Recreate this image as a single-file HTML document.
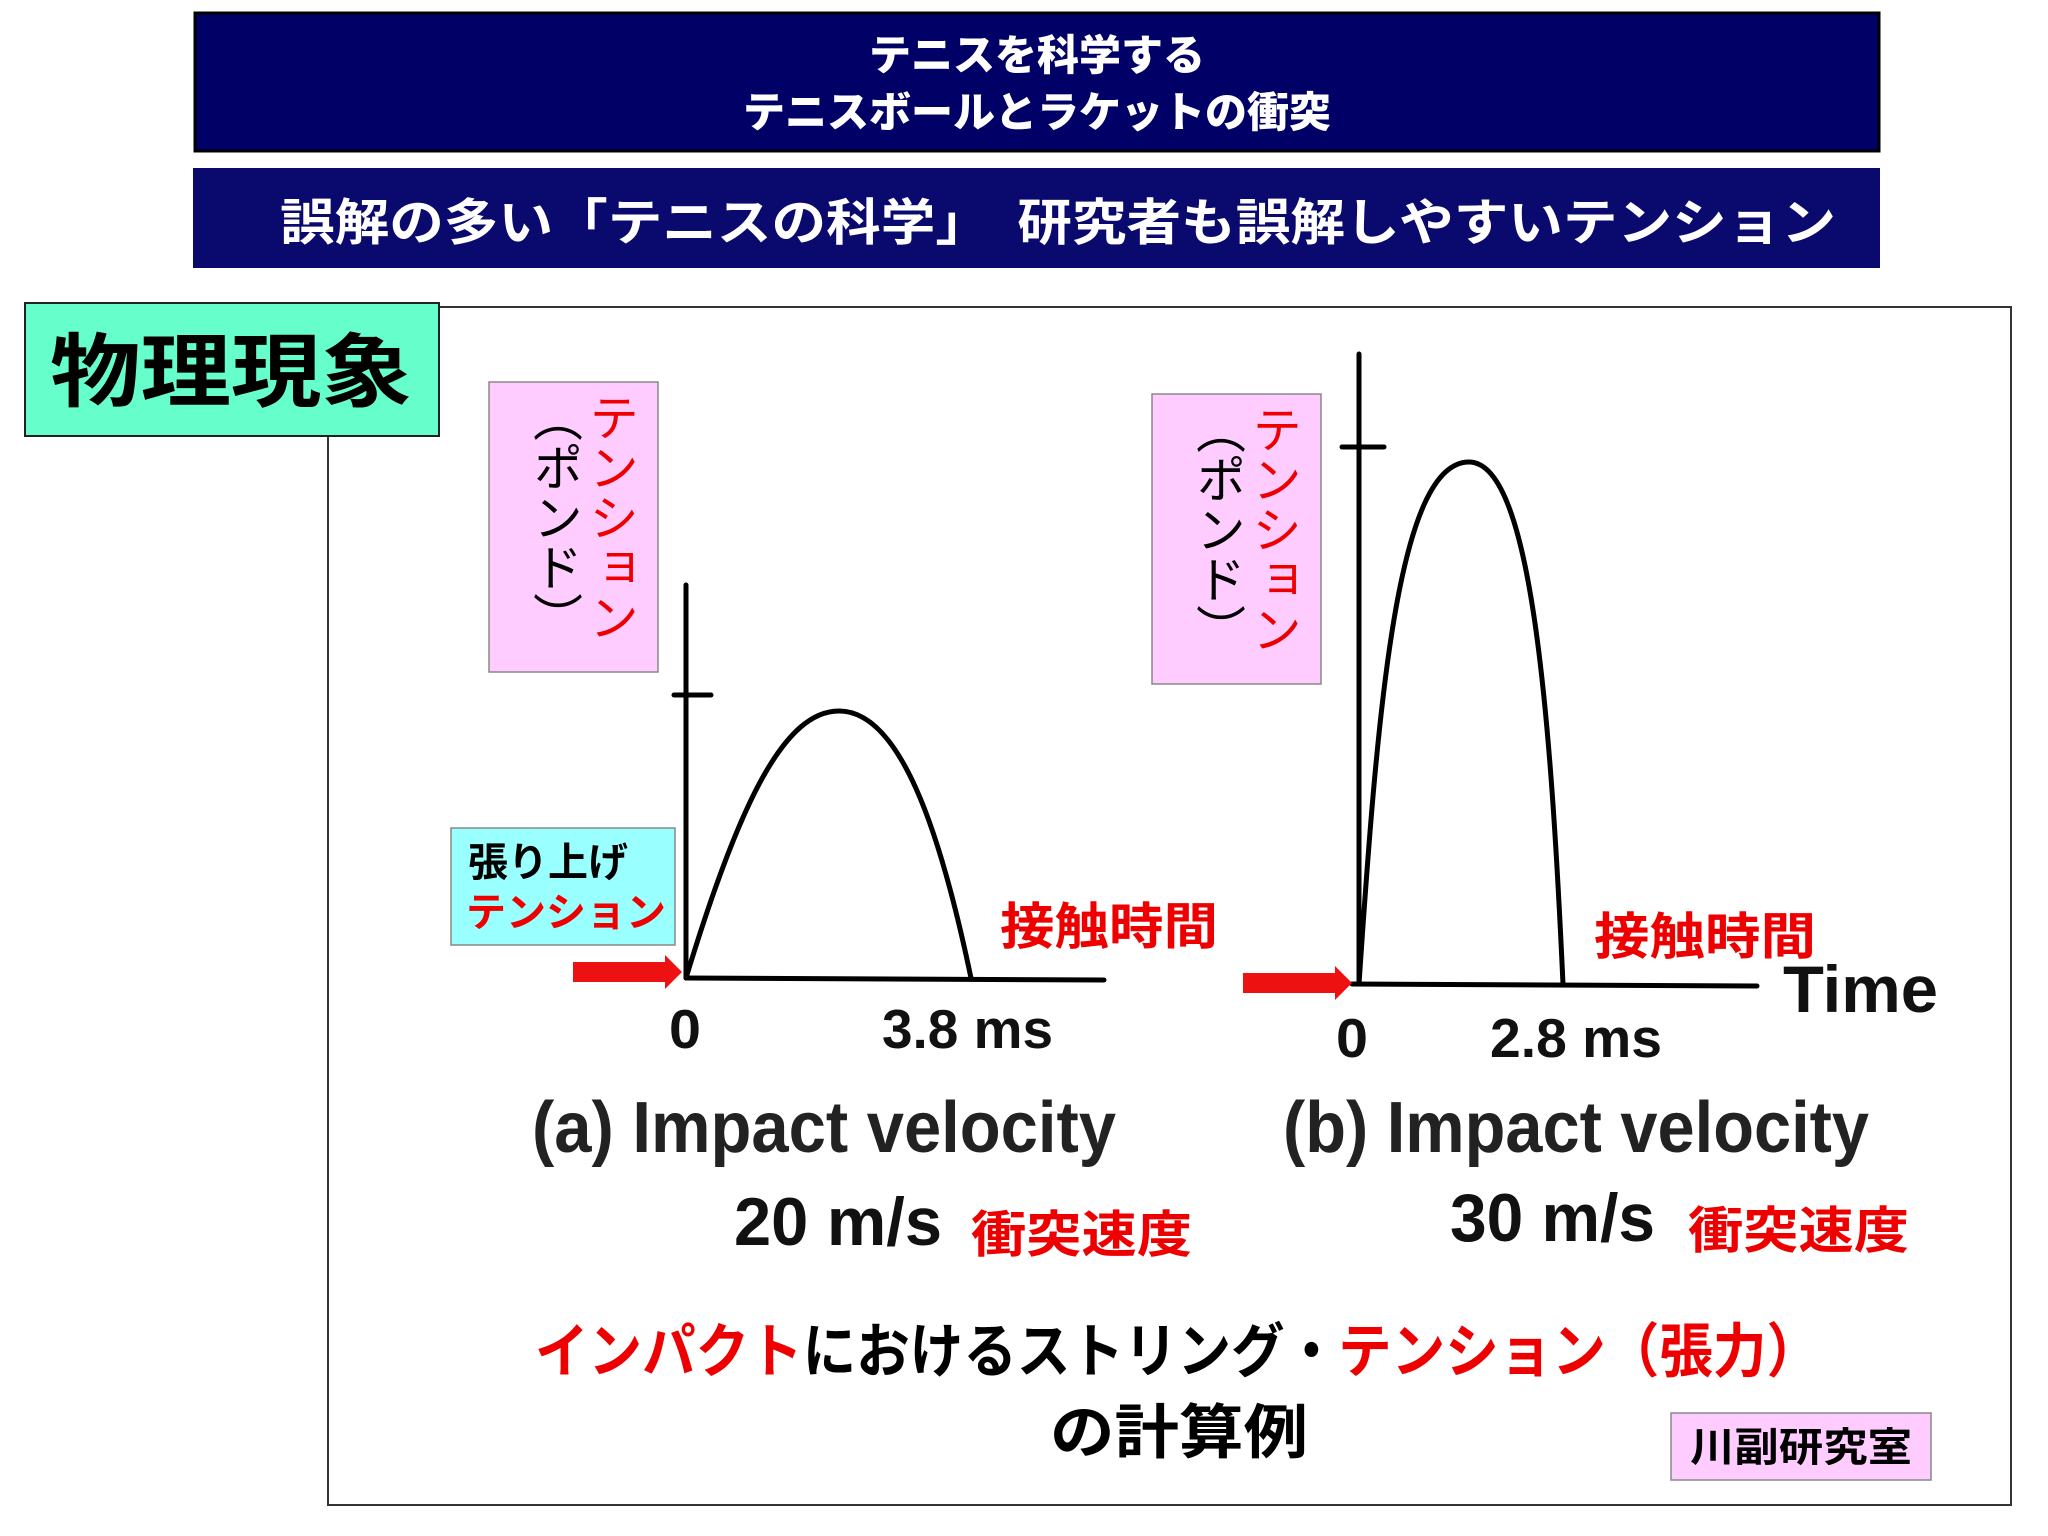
<!DOCTYPE html>
<html><head><meta charset="utf-8"><style>
html,body{margin:0;padding:0;background:#fff;}
.v{position:absolute;writing-mode:vertical-rl;font-family:"Liberation Sans","Noto Sans CJK JP",sans-serif;font-size:50px;line-height:56px;}
</style></head><body>
<div style="position:relative;width:2048px;height:1536px;overflow:hidden;">
<svg width="2048" height="1536" viewBox="0 0 2048 1536" style="position:absolute;left:0;top:0" font-family="Liberation Sans, Noto Sans CJK JP, sans-serif">
<rect x="195" y="13" width="1684" height="138" fill="#000066" stroke="#000" stroke-width="3"/>
<text x="1037" y="70" fill="#fff" font-size="42" font-weight="900" text-anchor="middle" font-family="Noto Sans CJK JP, sans-serif">テニスを科学する</text>
<text x="1037" y="127" fill="#fff" font-size="42" font-weight="900" text-anchor="middle" font-family="Noto Sans CJK JP, sans-serif">テニスボールとラケットの衝突</text>
<rect x="193" y="168" width="1687" height="100" fill="#0a0a6e"/>
<text x="280" y="240" fill="#fff" font-size="50" font-weight="bold" textLength="1556" lengthAdjust="spacingAndGlyphs" font-family="Noto Sans CJK JP, sans-serif">誤解の多い「テニスの科学」　研究者も誤解しやすいテンション</text>
<rect x="328" y="307" width="1683" height="1198" fill="#fff" stroke="#333" stroke-width="2"/>
<rect x="25" y="303" width="414" height="133" fill="#66ffcc" stroke="#222" stroke-width="2"/>
<text x="50" y="400" font-size="80" font-weight="bold" fill="#000" textLength="362" lengthAdjust="spacingAndGlyphs" font-family="Noto Sans CJK JP, sans-serif">物理現象</text>
<rect x="489" y="382" width="169" height="290" fill="#ffccff" stroke="#888" stroke-width="1.5"/>
<rect x="1152" y="394" width="169" height="290" fill="#ffccff" stroke="#888" stroke-width="1.5"/>
<rect x="451" y="828" width="224" height="117" fill="#99ffff" stroke="#888" stroke-width="1.5"/>
<text x="468" y="876" font-size="40" font-weight="bold" fill="#000" font-family="Noto Sans CJK JP, sans-serif">張り上げ</text>
<text x="466" y="926" font-size="40" font-weight="bold" fill="#e00" font-family="Noto Sans CJK JP, sans-serif">テンション</text>
<g stroke="#000" stroke-width="5" fill="none" stroke-linecap="round">
<line x1="686" y1="585" x2="686" y2="978"/><line x1="674" y1="695" x2="711" y2="695"/>
<line x1="686" y1="978" x2="1104" y2="980"/>
<path d="M686,978 C740,800 785,711 839,711 C900,711 940,830 971,978"/>
<line x1="1359" y1="354" x2="1359" y2="984"/><line x1="1342" y1="447" x2="1384" y2="447"/>
<line x1="1352" y1="984" x2="1757" y2="986"/>
<path d="M1359,984 C1378,700 1398,462 1469,462 C1530,462 1550,700 1563,984"/>
</g>
<polygon points="573,962 665,962 665,955 682,972 665,989 665,982 573,982" fill="#ee1111"/>
<polygon points="1243,973 1335,973 1335,966 1352,983 1335,1000 1335,993 1243,993" fill="#ee1111"/>
<text x="1000" y="944" font-size="50" font-weight="bold" fill="#e00" textLength="218" lengthAdjust="spacingAndGlyphs" font-family="Noto Sans CJK JP, sans-serif">接触時間</text>
<text x="1594" y="954" font-size="50" font-weight="bold" fill="#e00" textLength="222" lengthAdjust="spacingAndGlyphs" font-family="Noto Sans CJK JP, sans-serif">接触時間</text>
<g font-weight="bold" fill="#111">
<text x="669" y="1048" font-size="55" textLength="32" lengthAdjust="spacingAndGlyphs">0</text>
<text x="882" y="1048" font-size="55" textLength="171" lengthAdjust="spacingAndGlyphs">3.8 ms</text>
<text x="1336" y="1057" font-size="55" textLength="32" lengthAdjust="spacingAndGlyphs">0</text>
<text x="1490" y="1057" font-size="55" textLength="172" lengthAdjust="spacingAndGlyphs">2.8 ms</text>
<text x="1783" y="1012" font-size="66" textLength="155" lengthAdjust="spacingAndGlyphs">Time</text>
<text x="532" y="1152" font-size="72" fill="#222" textLength="584" lengthAdjust="spacingAndGlyphs">(a) Impact velocity</text>
<text x="1283" y="1152" font-size="72" fill="#222" textLength="586" lengthAdjust="spacingAndGlyphs">(b) Impact velocity</text>
<text x="734" y="1245" font-size="68" textLength="208" lengthAdjust="spacingAndGlyphs">20 m/s</text>
<text x="1450" y="1241" font-size="68" textLength="205" lengthAdjust="spacingAndGlyphs">30 m/s</text>
</g>
<text x="971" y="1252" font-size="50" font-weight="bold" fill="#e00" textLength="221" lengthAdjust="spacingAndGlyphs" font-family="Noto Sans CJK JP, sans-serif">衝突速度</text>
<text x="1688" y="1248" font-size="50" font-weight="bold" fill="#e00" textLength="221" lengthAdjust="spacingAndGlyphs" font-family="Noto Sans CJK JP, sans-serif">衝突速度</text>
<text x="535" y="1372" font-size="59" font-weight="bold" textLength="1285" lengthAdjust="spacingAndGlyphs" font-family="Noto Sans CJK JP, sans-serif"><tspan fill="#e00">インパクト</tspan><tspan fill="#000">におけるストリング・</tspan><tspan fill="#e00">テンション（張力）</tspan></text>
<text x="1050" y="1453" font-size="59" font-weight="bold" fill="#000" textLength="258" lengthAdjust="spacingAndGlyphs" font-family="Noto Sans CJK JP, sans-serif">の計算例</text>
<rect x="1671" y="1413" width="260" height="67" fill="#ffccff" stroke="#888" stroke-width="1.5"/>
<text x="1690" y="1461" font-size="40" font-weight="bold" fill="#000" textLength="222" lengthAdjust="spacingAndGlyphs" font-family="Noto Sans CJK JP, sans-serif">川副研究室</text>
</svg>
<div class="v" style="left:508px;top:392px;width:130px;height:270px;"><span style="color:#e00">テンション</span><br><span style="color:#000">（ポンド）</span></div>
<div class="v" style="left:1171px;top:404px;width:130px;height:270px;"><span style="color:#e00">テンション</span><br><span style="color:#000">（ポンド）</span></div>
</div>
</body></html>
